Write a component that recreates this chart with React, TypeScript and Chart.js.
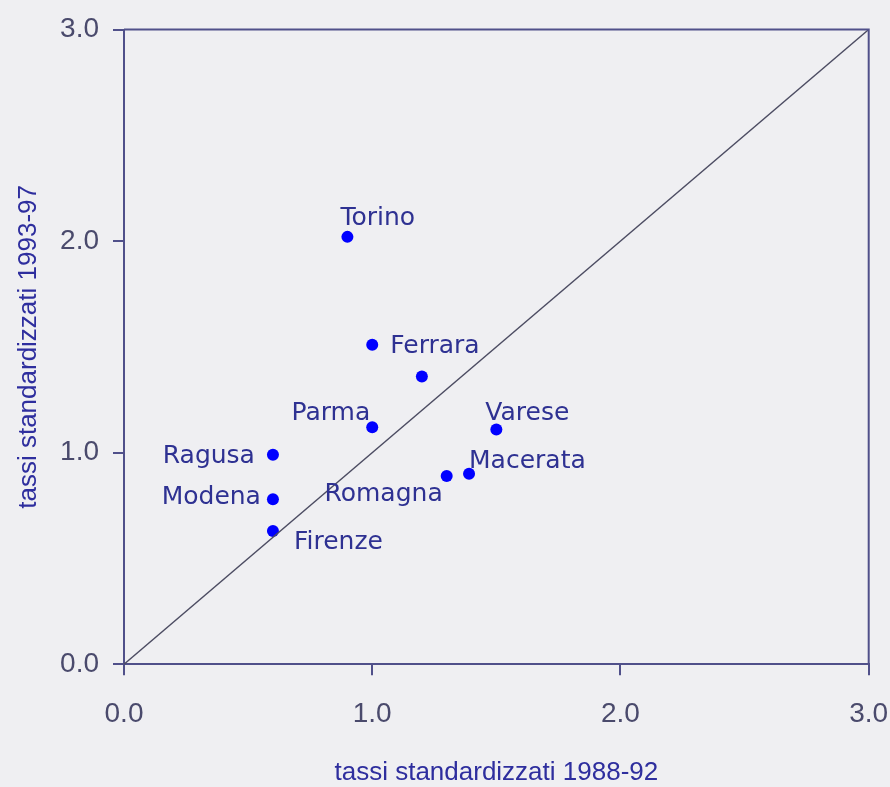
import React, { useEffect, useRef } from 'react';
import { Chart, registerables } from 'chart.js';

Chart.register(...registerables);

const regions = ['Torino', 'Ferrara', '', 'Parma', 'Ragusa', 'Modena', 'Firenze', 'Romagna', 'Macerata', 'Varese'];
const rate8892 = [0.9, 1.0, 1.2, 1.0, 0.6, 0.6, 0.6, 1.3, 1.39, 1.5];
const rate9397 = [2.02, 1.51, 1.36, 1.12, 0.99, 0.78, 0.63, 0.89, 0.9, 1.11];
const xTickLabels = ['0.0', '1.0', '2.0', '3.0'];
const yTickLabels = ['0.0', '1.0', '2.0', '3.0'];
const diagonal = [0, 3];
const xTitle = 'tassi standardizzati 1988-92';
const yTitle = 'tassi standardizzati 1993-97';

// label placement relative to its point: [textAlign, dx, dy(baseline)]
const labelPlacement: Record<string, [CanvasTextAlign, number, number]> = {
  Torino: ['left', -7, -12],
  Ferrara: ['left', 18, 8],
  Parma: ['right', -2, -7],
  Ragusa: ['right', -18, 8],
  Modena: ['right', -12, 5],
  Firenze: ['left', 21, 18],
  Romagna: ['right', -4, 25],
  Macerata: ['left', 0, -6],
  Varese: ['left', -11, -9],
};

const AXIS = '#50508a';
const TICK_TEXT = '#4a4a6c';
const TITLE_TEXT = '#2e2e9e';
const SANS = "'Liberation Sans', Arial, sans-serif";

const framePlugin = {
  id: 'frame',
  afterDraw(chart: any) {
    const { ctx, chartArea } = chart;
    const { left, top, right, bottom } = chartArea;
    ctx.save();
    ctx.strokeStyle = AXIS;
    ctx.lineWidth = 2;
    ctx.beginPath();
    ctx.moveTo(left, top);
    ctx.lineTo(right, top);
    ctx.lineTo(right, bottom);
    ctx.stroke();
    ctx.restore();
  },
};

const labelPlugin = {
  id: 'pointLabels',
  afterDatasetsDraw(chart: any) {
    const meta = chart.getDatasetMeta(1);
    const ctx = chart.ctx;
    ctx.save();
    ctx.font = "25px 'DejaVu Sans', Verdana, sans-serif";
    ctx.fillStyle = '#2e3192';
    ctx.textBaseline = 'alphabetic';
    meta.data.forEach((el: any, i: number) => {
      const name = regions[i];
      if (!name) return;
      const [align, dx, dy] = labelPlacement[name];
      ctx.textAlign = align;
      ctx.fillText(name, el.x + dx, el.y + dy);
    });
    ctx.restore();
  },
};

export default function App() {
  const ref = useRef<HTMLCanvasElement>(null);

  useEffect(() => {
    document.body.style.margin = '0';
    const chart = new Chart(ref.current!, {
      type: 'scatter',
      data: {
        datasets: [
          {
            data: diagonal.map((v) => ({ x: v, y: v })),
            showLine: true,
            borderColor: '#4c4c62',
            borderWidth: 1.5,
            pointRadius: 0,
            clip: false as any,
          },
          {
            data: regions.map((_, i) => ({ x: rate8892[i], y: rate9397[i] })),
            backgroundColor: '#0000ff',
            borderWidth: 0,
            pointRadius: 6,
          },
        ],
      },
      options: {
        animation: false,
        responsive: true,
        maintainAspectRatio: false,
        layout: { padding: { top: 29.5, right: 21.3, left: 0, bottom: 0 } },
        plugins: { legend: { display: false }, tooltip: { enabled: false } },
        scales: {
          x: {
            type: 'linear',
            min: 0,
            max: 3,
            afterFit: (s: any) => {
              s.height = 122.7;
              s.paddingLeft = 0;
              s.paddingRight = 0;
            },
            ticks: {
              stepSize: 1,
              callback: (_v: any, i: number) => xTickLabels[i],
              font: { family: SANS, size: 28 },
              color: TICK_TEXT,
              padding: 22,
            },
            grid: { drawOnChartArea: false, tickLength: 11, color: AXIS, lineWidth: 2 },
            border: { color: AXIS, width: 2 },
            title: {
              display: true,
              text: xTitle,
              font: { family: SANS, size: 26, lineHeight: 1 },
              color: TITLE_TEXT,
              padding: { top: 0, bottom: 1 },
            },
          },
          y: {
            type: 'linear',
            min: 0,
            max: 3,
            afterFit: (s: any) => {
              s.width = 124;
              s.paddingTop = 0;
              s.paddingBottom = 0;
            },
            ticks: {
              stepSize: 1,
              callback: (_v: any, i: number) => yTickLabels[i],
              font: { family: SANS, size: 28 },
              color: TICK_TEXT,
              padding: 14,
            },
            grid: { drawOnChartArea: false, tickLength: 11, color: AXIS, lineWidth: 2 },
            border: { color: AXIS, width: 2 },
            title: {
              display: true,
              text: yTitle,
              font: { family: SANS, size: 26, lineHeight: 1 },
              color: TITLE_TEXT,
              padding: { top: 16, bottom: 0 },
            },
          },
        },
      } as any,
      plugins: [framePlugin, labelPlugin],
    });
    return () => chart.destroy();
  }, []);

  return (
    <div style={{ position: 'absolute', left: 0, top: 0, width: 890, height: 787, background: '#efeff2' }}>
      <canvas ref={ref} />
    </div>
  );
}
